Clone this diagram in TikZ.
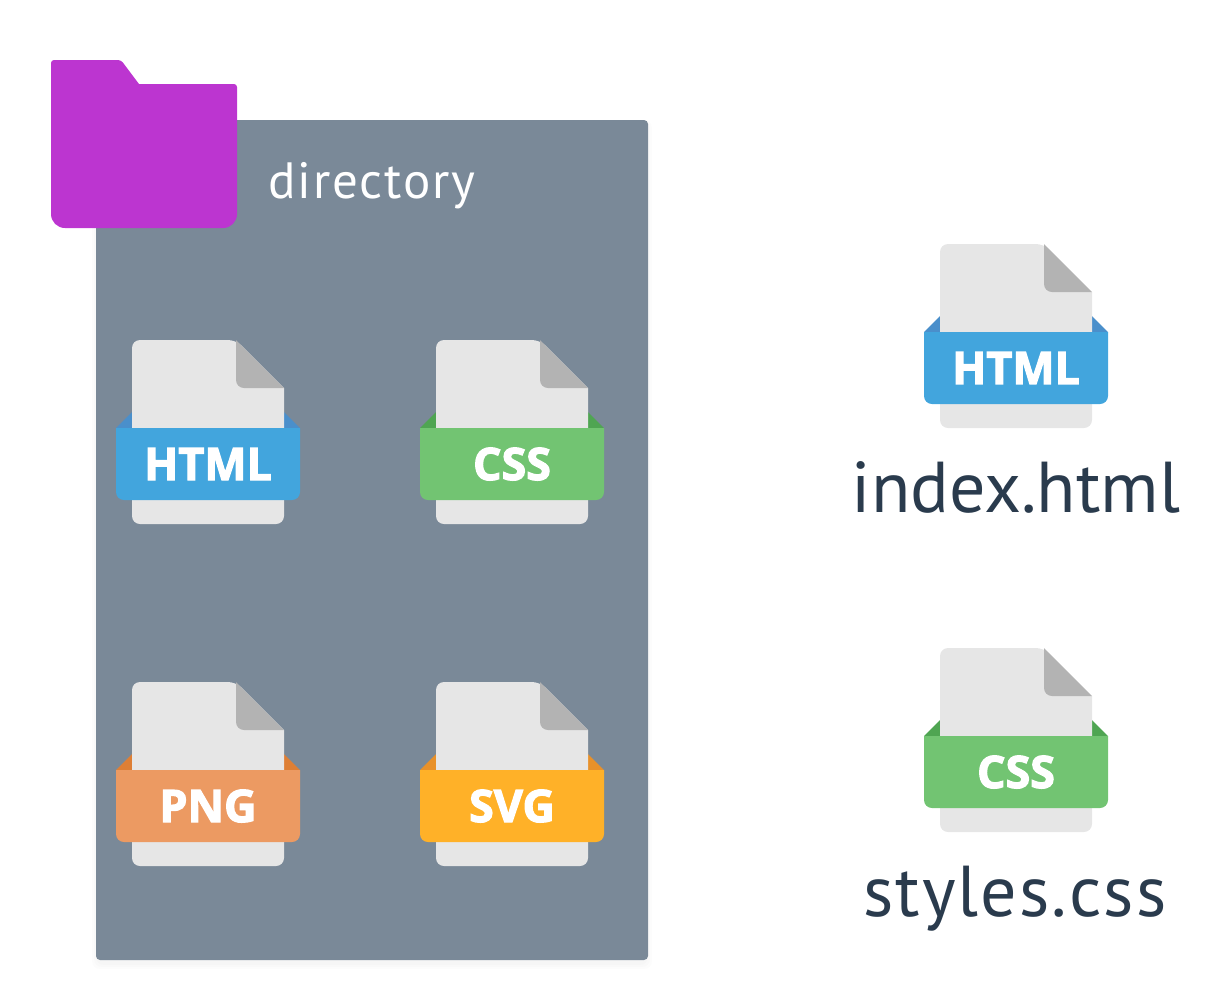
\documentclass[tikz,border=0pt]{standalone}
\usepackage{fontspec}
\setmainfont{PT Sans}
\newfontfamily\badgefont[BoldFeatures={FakeBold=2.6}]{Open Sans}
\newfontfamily\dirfont[LetterSpace=3.7]{PT Sans}
\newfontfamily\stylesfont[LetterSpace=2.8]{PT Sans}
\usetikzlibrary{positioning,calc}
\definecolor{panelgrey}{HTML}{7A8998}
\definecolor{foldergrape}{HTML}{BC35D0}
\definecolor{sheetgrey}{HTML}{E6E6E6}
\definecolor{foldgrey}{HTML}{B3B3B3}
\definecolor{labelink}{HTML}{2A3B4D}
\definecolor{htmlblue}{HTML}{42A5DD}
\definecolor{htmldark}{HTML}{4A8FCB}
\definecolor{cssgreen}{HTML}{72C472}
\definecolor{cssdark}{HTML}{4FA552}
\definecolor{pngorange}{HTML}{EC9A62}
\definecolor{pngdark}{HTML}{DE7F35}
\definecolor{svgyellow}{HTML}{FFB128}
\definecolor{svgdark}{HTML}{E8912A}

\begin{document}
\begin{tikzpicture}[
  x=0.5pt, y=-0.5pt,
  badge/.style={text=white, inner sep=0pt, font=\badgefont\bfseries\fontsize{22.4}{24}\selectfont},
  lab/.style={text=labelink, inner sep=0pt, anchor=base, font=\fontsize{36}{40}\selectfont}]
  \useasboundingbox (0,0) rectangle (1228,1008);
  % panel with soft shadow
  \foreach \grow in {6,4,2}
    \fill[black, opacity=0.012, rounded corners=4pt] (96-\grow+2,120) rectangle (648+\grow-2,960+\grow+3);
  \fill[panelgrey, rounded corners=2pt] (96,120) rectangle (648,960);
  % folder
  \fill[foldergrape] (51,100) [rounded corners=1.5pt] -- (51,60) -- (121,60) [sharp corners] -- (139,84) -- (160,84)
    [rounded corners=1.5pt] -- (237,84) -- (237,150) [rounded corners=7pt] -- (237,228) -- (51,228) -- cycle;
  \node[text=white, inner sep=0pt, font=\dirfont\fontsize{25.5}{28}\selectfont, anchor=base west] (dirname) at (268,198) {directory};
  % file icons
  \foreach \name/\px/\py/\lab/\col/\dark in {
      html/132/340/HTML/htmlblue/htmldark, css/436/340/CSS/cssgreen/cssdark,
      png/132/682/PNG/pngorange/pngdark, svg/436/682/SVG/svgyellow/svgdark,
      index/940/244/HTML/htmlblue/htmldark, styles/940/648/CSS/cssgreen/cssdark} {
    \begin{scope}[shift={(\px,\py)}]
      \fill[\dark] (-16,88) -- (0,72) -- (0,88) -- cycle;
      \fill[\dark] (168,88) -- (152,72) -- (152,88) -- cycle;
      \fill[sheetgrey] (0,90) [rounded corners=4pt] -- (0,0) -- (104,0) [sharp corners] -- (152,48) -- (152,100)
        [rounded corners=4pt] -- (152,184) -- (0,184) -- cycle;
      \fill[foldgrey] (104,0) -- (152,48) -- (120,48) [rounded corners=4pt] -- (104,48) -- (104,20) [sharp corners] -- cycle;
      \fill[\col] (-16,88) -- (168,88) -- (168,100) [rounded corners=4pt] -- (168,160) -- (-16,160) -- (-16,140) [sharp corners] -- cycle;
      \node[badge] (\name-badge) at (76,124) {\lab};
    \end{scope}
  }
  \node[lab] (indexname) at (1016,512) {index.html};
  \node[lab, font=\stylesfont\fontsize{36}{40}\selectfont] (stylesname) at (1015,916) {styles.css};
\end{tikzpicture}
\end{document}
